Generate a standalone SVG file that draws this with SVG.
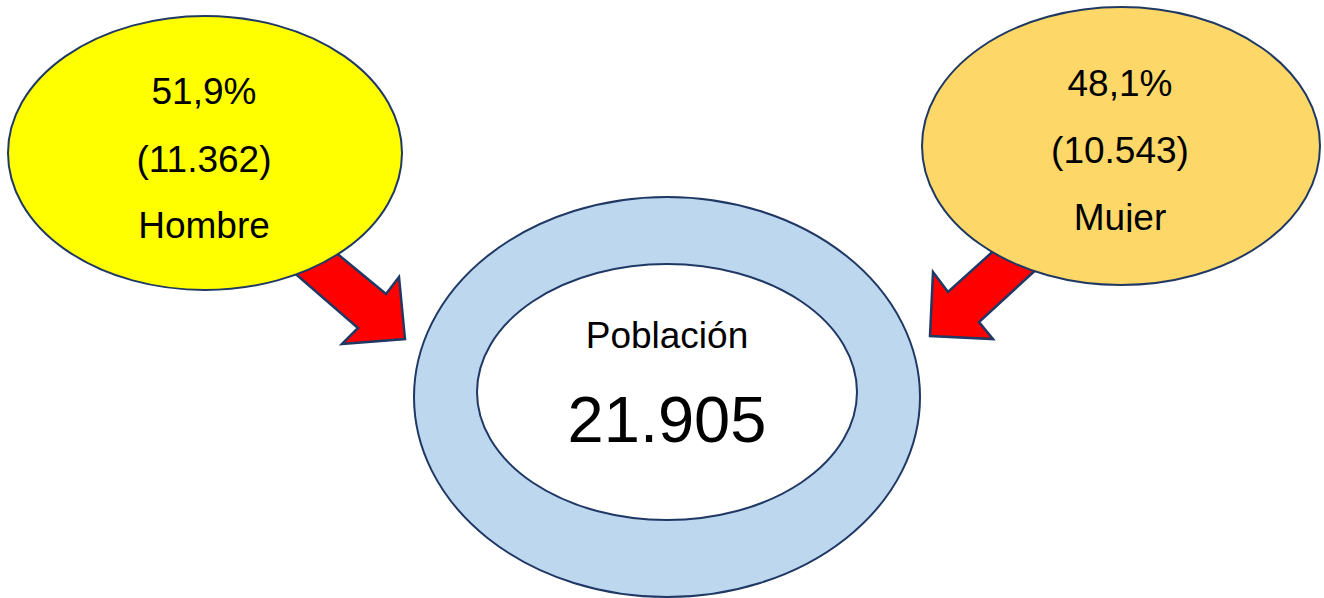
<svg xmlns="http://www.w3.org/2000/svg" width="1324" height="598" viewBox="0 0 1324 598">
  <style>
    .t { font-family: "Liberation Sans", Arial, sans-serif; fill: #000; text-anchor: middle; }
    .s { font-size: 37px; }
    .b { font-size: 65px; }
    .edge { stroke: #1f3864; stroke-width: 2; }
    .arrow { fill: #ff0000; stroke: #1f3864; stroke-width: 2.5; stroke-linejoin: miter; }
  </style>
  <defs>
    <clipPath id="clipMujer"><rect x="1000" y="190" width="240" height="42"/></clipPath>
  </defs>
  <rect width="1324" height="598" fill="#ffffff"/>
  <g id="connectors">
    <polygon class="arrow" points="317,237 386,294 399,277 405,339 342,344 358,328 275,256"/>
    <polygon class="arrow" points="1010,236 948,292 933,272 930,336 993,339 979,322 1052,255"/>
  </g>
  <g id="poblacion">
    <ellipse class="edge" cx="667" cy="397" rx="253" ry="200" fill="#bdd7ee"/>
    <ellipse class="edge" cx="667" cy="392" rx="190" ry="128" fill="#ffffff"/>
    <text class="t s" x="667" y="348">Población</text>
    <text class="t b" x="667" y="442">21.905</text>
  </g>
  <g id="hombre">
    <ellipse class="edge" cx="205" cy="153" rx="197" ry="137" fill="#ffff00"/>
    <text class="t s" x="204" y="104">51,9%</text>
    <text class="t s" x="204" y="172">(11.362)</text>
    <text class="t s" x="204" y="238">Hombre</text>
  </g>
  <g id="mujer">
    <ellipse class="edge" cx="1121" cy="146" rx="199" ry="139" fill="#fdd869"/>
    <text class="t s" x="1120" y="96">48,1%</text>
    <text class="t s" x="1120" y="163">(10.543)</text>
    <text class="t s" x="1120" y="230" clip-path="url(#clipMujer)">Mujer</text>
  </g>
</svg>
